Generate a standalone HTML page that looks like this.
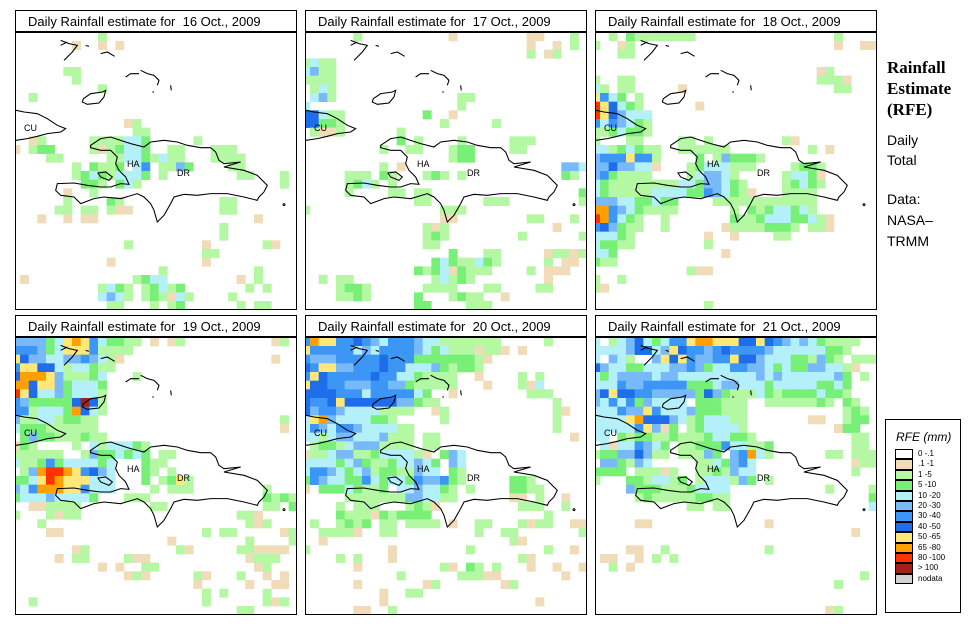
<!DOCTYPE html>
<html><head><meta charset="utf-8">
<style>
body{margin:0;background:#fff;width:971px;height:635px;overflow:hidden;position:relative;font-family:"Liberation Sans",sans-serif}
.title{position:absolute;height:22px;border:1px solid #000;box-sizing:border-box;font-size:13px;line-height:21px;padding-left:12px;background:#fff;white-space:pre}
.map{position:absolute;border:1px solid #000;box-sizing:border-box;overflow:hidden;background:#fff}
.side{position:absolute;left:887px}
</style></head><body>
<div class="side" style="top:57px;font-family:'Liberation Serif',serif;font-weight:bold;font-size:17px;line-height:21px">Rainfall<br>Estimate<br>(RFE)</div>
<div class="side" style="top:130px;font-size:14px;line-height:20px">Daily<br>Total</div>
<div class="side" style="top:189px;font-size:14px;line-height:21px">Data:<br>NASA–<br>TRMM</div>
<div id="legend" style="position:absolute;left:885px;top:419px;width:76px;height:194px;border:1px solid #000;box-sizing:border-box"></div>
<div id="panels"></div>
<svg width="0" height="0" style="position:absolute">
<defs>
<g id="coast" fill="none" stroke="#000" stroke-width="3.2" transform="scale(0.3333) translate(-16,-8)">
<path d="M240,345 L270,325 L300,320 L330,330 L360,340 L400,350 L420,335 L460,330 L500,335 L530,345 L570,352 L600,352 L615,365 L625,390 L640,400 L690,395 L640,410 L700,420 L740,435 L770,465 L760,485 L745,500 L740,510 L700,500 L650,490 L600,490 L560,495 L520,492 L490,500 L480,520 L460,555 L440,575 L430,540 L420,520 L400,500 L380,490 L330,505 L280,500 L250,505 L210,520 L190,500 L150,495 L135,480 L140,460 L190,458 L230,465 L270,470 L300,470 L330,460 L355,462 L345,440 L325,420 L315,400 L320,380 L300,360 L270,360 L240,352 Z"/>
<path d="M262,428 L285,425 L305,440 L295,450 L270,440 Z"/>
<path d="M218,205 L240,190 L275,185 L285,180 L280,200 L265,218 L230,222 L215,215 Z"/>
<path d="M16,240 L40,245 L80,250 L110,265 L140,285 L165,295 L150,305 L110,310 L80,318 L50,325 L16,330"/>
<path d="M150,30 L175,40 L200,45 L185,65 L160,90 M150,45 L170,35 M225,45 L235,48 M270,70 L290,65 L312,78 M345,140 L360,130 L385,130 M390,120 L410,130 L430,135 L445,150 L440,165 M425,185 L430,185 M480,165 L482,180"/>
<path d="M820,520 a3,3 0 1,0 0.1,0"/>
</g>
</defs>
</svg>
<script>
// ---- data: RFE category per grid cell, per row (tokens "col+code" or "a-b"+code) ----
const legendLabels = ["0 -.1",".1 -1","1 -5","5 -10","10 -20","20 -30","30 -40","40 -50","50 -65","65 -80","80 -100","> 100","nodata"];
const legendCodes = [".","t","g","G","a","b","c","d","y","o","r","m","n"];
const dayTitles = ["16 Oct., 2009","17 Oct., 2009","18 Oct., 2009","19 Oct., 2009","20 Oct., 2009","21 Oct., 2009"];
const day16 = ["10g","7t 10t 12t","","","6-7g","7g","10g","2g","","","13t 14g","14-15g",
"2t 3g 9-12g 13-14a 15G 21g","0t 2g 3-4G 9g 10t 11g 12G 13-14a 15G 18-19g 23-25g",
"4-5g 11-12g 13-14a 15G 16g 17a 18-19g 23-26g","7g 9G 10-11g 12G 14a 15c 17-18g 19b 20G 25-26g",
"7g 8G 9a 10G 11g 12-14a 15G 17g 26-27g 31g","8-9G 10g 12G 13a 14g 31g","6t 9g","6g 11G 12g 24-25g",
"5-6g 8-9g 11g 12-13t 24-25g","3t 6t 8-9t 28t","24g","24g","13g 22t 29g 30t","22-23g","11t 22t","17g 28g",
"1t 14g 15G 16-17a 26t 28g","10g 11a 12G 13g 15g 16G 17a 18g 19G 27g 29g",
"10a 11b 12a 13g 15g 16G 17g 18t 19a 20g 25g","11-12g 16g 18g 19G 26g 28-29g"];
const day17 = ["6g 17t 26-27t 31g","26t 29t 31g","26g 28t 29g","0g 1a 2-3g","0a 1b 2-3g","0-3g","1g 2a 3g",
"1a 2b 3g 18-19g","0a 18g","0-1d 2a 3-4g 14G 17t","0-1d 2-3G 4g 16g 22g","1g 2-3t 4g 11g","11G 13g 18g 24-26g",
"9g 12-13g 17g 18-19G 24-25g","17g 18-19G","9g 11t 30-31b 32a","5-7g 9G 10g 14g 15G 16g 18g 30G 31g",
"5g 6G 7a 8g 10g","5g 10-11g 13-14g 32G","13-14g 21-23g 32g","0g 16-18g","16-17t 26-27g 31g",
"14g 15t 16g 29t","14g 15G 16g 25g 32g","14-15g","17G 21-22g 28t 29-30g 31t 32g",
"15G 16a 17G 18-19g 20a 21G 22g 28g 30-31t","13G 14g 15G 16a 17t 18G 19-21g 26g 28-30t",
"2g 4-5g 15g 16a 17g 18G 19g 28t","4g 5-6G 7g 14-17g 21-22g 27-28g","4-5g 6G 7g 13G 17g 18G 19-20g 23t","13-14G 19-21g"];
const day18 = ["2g 4G 5-11g 28g","0g 3t 4g 28t 31-32t","3-4g","","26t 27g","0g 3-4g 26-28g 29t","0a 1g 3-4g 10t 28-29g",
"0y 1c 2a 3G 5g","0r 1y 2d 3a 4G 5g 12t","0r 1y 2d 3b 4-6a","0c 1a 2c 3b 4a 5G 6g","0-1g 2G 3a 4-5G 6g",
"0g 4-5g 10-11g 13g 22g 23t","0-1a 2g 3G 4a 5G 6-7g 10-15g 25g 27t","0b 1-3c 4y 5-6c 7g 12G 14g 15b 16-18G 19g",
"0-1b 2d 3-4b 5-6a 7t 11g 12G 13-15a 16-18g 23g 24-25G 26g","0b 1c 2G 3-6g 11g 12a 13-14b 15a 16g 22g 23-24a 25G 26t",
"0a 1G 2-6g 7-9g 10-11a 12G 13-14b 15a 16G 17g 22g 23G 24a 25G 26g",
"0a 1G 2-6g 7-10a 11-12G 13c 14b 15a 16G 17g 18t 22-25g","0-2b 3-4a 5-6G 7a 8-9G 14-15g 16-25g",
"0-1o 2c 3b 4a 5G 6-9g 16g 18G 19g 20G 21-22a 23G 24a 25g","0r 1o 2c 3a 4G 5g 8g 16G 17-18g 19G 20-22a 23-24G 25a 26g 27t",
"0c 1d 2b 3G 4-5g 8g 15t 16-19g 20-22G 23g 25-26g 27t","0-2a 3G 4g 13t 16t 21-22g","0a 1-2G 3-4g 13g","0-1a 2G 15t",
"0G 1-2g","11g 12-13t","0g 3g","0g 1t","","13g"];
const day19 = ["0-3b 4G 5a 6y 7o 8y 9c 10a 11-12G 13-14g 16t 18t 19g 30t 31g","0-2c 3b 4G 5a 6-8y 9c 10-12g 13g",
"0y 1d 2-3b 4-5a 6-7b 8c 9b 10a 11g 12t 30t","0c 1-2y 3-4d 5a 6g 7-8a 9G 10-11g","0d 1-3o 4y 5b 6-8g 9G 10a 14g",
"0-1o 2d 3-4y 5b 6G 7-9a 10G","0r 1y 2d 3-4a 5b 6G 7-9a 10g","0c 1b 2-6G 7d 8m 9d 10g","0-1c 2g 3-5a 6G 7o 8d 9a 10g",
"0b 1-2g 3-4a 5g 6-7G 8-9g 31g","0a 1-3G 4-9g 31t","1G 2b 3-4G 5-7g 8G 9-10g","0t 1G 2g 7g 9a 10g 11-13a 14G 15g",
"0-5g 8g 9b 10-11G 12a 13G 14a 15G 17-18g","0a 1-2g 3G 4c 5G 6-9a 10G 11a 15G 16-17g",
"1g 2b 3o 4-5r 6o 7y 8c 9d 10b 11a 15G 16g 18g","0-1G 2a 3y 4r 5o 6-8y 9-11a 15G 17g 18G 19y 20g",
"0b 1a 2c 3-5o 6-7y 8c 9-11a 16g 18-20g 29g","0G 1-3a 4b 5-8a 9G 13-15g 29G 30g 31G 32g","2-3t 4-7g 16-17g 29-30g 32G",
"0g 4g 5t 6-7g 26-27g 28t","3g 27g 28t 29g","4-5t 22g 24-25g 31t 32g","18t 27g 32g","7t 8g 19g 20t 26-27g 28-31t",
"5t 7-8g 13g 14-15t 27t 28-30g","10t 12t 15-16g 28t 29g","13t 14g 15t 21g 22t 26g 29t 31t","21t 27t 30-31t",
"22g 24g 29g","2g 22g 29g 30t 31g","26-27g"];
const day20 = ["0c 1o 2-3y 4-5c 6d 7c 8b 9a 10-12c 13b 14-15a 16-22g 28g","0y 1-5c 6a 7b 8a 9-12c 13b 14a 15G 16a 17-19g 20t 21-22g 23t 25t",
"0c 1-3b 4-8c 9d 10-12c 13G 14-19G 20g 21t","0d 1c 2-3y 4-5b 6-8c 9d 10-11c 12-14a 15b 16G 17g 18-19G 20g",
"0c 1y 2d 3-7c 8d 9-10c 11-12a 13G 14-17g 20t 25g 27g","0y 1-2d 3-4c 5-7b 8-9c 10-11b 12G 13-17g 21t 25g 26t 27a",
"0-3d 4-6c 7a 8-12c 13a 14G 17t 26-28g","0d 1-2c 3d 4y 5-10d 11-12b 13G 14-15g 29g","0d 1b 2-3c 4b 5-8a 9-12g 15t 16g 29g 30t",
"0a 1y 2o 3b 4-7a 8-9G 10g 16g 29g","0a 1c 2b 3a 4-5c 6b 7-10a 11-12g 29g","0-1a 2g 3a 4-5b 6-8a 9b 10-12g 14-15g 31t",
"1g 2-3G 4g 5a 6-8b 9-12g 14-15g","0t 1-2g 3a 4-5b 6-7g 8G 9-12a 13g 14t 16G 17b 18a",
"0-3a 4G 5a 6b 7G 8-9g 10G 11-12a 13b 14a 15G 17b 18a","0a 1-2c 3b 4a 5G 6a 7b 8g 9-10G 11-12g 13b 14-15a 17G 18g",
"0G 1c 2b 3-4a 5-6G 7c 8a 9G 10-11a 12G 13c 14-15b 16c 17G 18g 24-25G 26g","0t 2-4G 5a 6G 7-8g 9G 11-12a 13b 14-15a 16G 17g 19g 24-25G 26-27g",
"5-11g 12-13b 14-15a 16-17g 24-25t 27g 30t","4g 6-8g 12g 13G 14g 15t 25-27g 30g","4G 5-7g 8t 9G 10g 11-14G 28g",
"1g 4g 5G 6g 7G 9-10g 12-15g 17t 20-21g 25g 26t 27-28g 31-32t","2-5g 6t 9-10g 20g 23-24g 32g","2t 24g 25t",
"0g 10t 19g 28g 31t","4g 6g 10t 25g 26t","6t 16g 17t 19G 20g 22g 26t 29t 32t","11g 18-20g 21-22t 30t",
"6t 14t 15g 23t 24g","9t 12-13g","9t 27t","6-7t 10g"];
const day21 = ["0a 2g 3a 4b 5d 6a 7G 8a 9-10c 11y 12-13o 14-16y 17-18d 19y 20d 21c 22b 23a 24b 25a 26G 27-30g",
"0-3a 4b 5-6d 7a 8b 9y 10d 11-12c 13b 14c 15d 16-19c 20b 21-26a 27-28G 29g",
"0a 2b 3a 4g 7b 8y 9d 10y 11c 12-13b 14-15c 16y 17-18d 19b 20-22a 23-24G 25g 26b 27G 28g 30-32g",
"0d 1b 2-3a 4-5G 6-8a 9-10b 11c 12b 13G 14-15a 16-17c 18-19b 20a 21G 22a 23-24G 25-26b 27-28a 29g 30t",
"0a 1G 2a 3-6b 7a 8-9b 10-18a 19b 20a 21b 22-27a 28b 29G 31g","0-2a 3c 4-5b 6-10c 11-13G 14a 15-16b 17-19a 20G 21-25a 26-27G 28a 29G",
"0b 1d 2y 3-4d 5-6c 7-11b 12G 13d 14b 15G 16-18g 19a 20G 21g 22-25G 26a 27-28G 29g",
"0b 1a 2c 3a 4c 5G 6b 7-10a 12-14G 15-17g 20-25g 26G 27g 29G 30g","0-2a 3c 4-5b 6y 7c 8-10a 11b 12-14G 15-17g 29g 30G 31g",
"0-3a 4y 5o 6-8d 9b 10a 11g 12G 13-15a 16-17g 25-26t 29g 30-31G","0-4a 5c 6y 7b 8t 9G 11g 12G 13-16a 17g 28t 29-30G",
"0-1a 3G 4g 5-6G 7-8g 9G 10-12g 13G 14-15a 16-17G 18g 30-31g","1a 2t 3-4a 5c 6b 7a 8G 10-11g 12-14G 15c 16-17a 18-19g 20G 30-31g",
"0g 1-2G 3-4b 5d 6b 7-8g 10-12g 13b 14G 16b 17c 18o 19a 20g 27-28g 30-32g","1-2b 3G 4g 5b 6a 12-13g 14a 15G 16b 17c 18a 30t 31-32g",
"0-3G 5-7g 8t 9g 12-13g 14G 15g 16b 17-18a 30g","0g 4-5G 6g 7-8a 9g 10G 12g 13-15a 16g 17b 18G 20g",
"4b 5-7G 8-10g 11G 12-15a 27g 32g","5g 6G 7-10g 11g 12-13G 14-15g 32G","11-12g 14-15g 32a","","5-6t 20t","30t","",
"4-5t 8g 20g","1-2t 5t 7g 9g","2g 4t","31g","28g","","","27t 28g"];
const dayData = [day16, day17, day18, day19, day20, day21];
</script>
<script>
const colors = {t:"#f0dcb9",g:"#b4f8a4",G:"#78f078",a:"#b4f0fa",b:"#78b9fa",c:"#3c96f5",d:"#1e6eeb",y:"#ffe878",o:"#ffa000",r:"#ff3200",m:"#a51e1e",n:"#d2d2d2",".":"#ffffff"};
const CELL = 8.667, X0 = -4.67, Y0 = -0.67;
const xCell = c => X0 + c * CELL;
const yCell = r => Y0 + r * CELL;
const panelLeft = [15, 305, 595];
const panelTitleTop = [10, 315];
const NS = "http://www.w3.org/2000/svg";
const root = document.getElementById("panels");
dayData.forEach((rows, p) => {
  const L = panelLeft[p % 3], T = panelTitleTop[Math.floor(p / 3)];
  const title = document.createElement("div");
  title.className = "title";
  title.style.left = L + "px"; title.style.top = T + "px"; title.style.width = "282px";
  title.textContent = "Daily Rainfall estimate for  " + dayTitles[p];
  
  
  root.appendChild(title);
  const map = document.createElement("div");
  map.className = "map";
  map.style.left = L + "px"; map.style.top = (T + 22) + "px"; map.style.width = "282px"; map.style.height = "278px";
  
  
  const svg = document.createElementNS(NS, "svg");
  svg.setAttribute("width", "280"); svg.setAttribute("height", "276");
  svg.style.position = "absolute"; svg.style.left = "0"; svg.style.top = "0";
  rows.forEach((row, r) => {
    row.split(/\s+/).filter(Boolean).forEach(tok => {
      const m = tok.match(/^(\d+)(?:-(\d+))?(.)$/);
      if (!m) return;
      const a = +m[1], b = m[2] ? +m[2] : a;
      for (let c = a; c <= b; c++) {
        const rect = document.createElementNS(NS, "rect");
        rect.setAttribute("x", xCell(c)); rect.setAttribute("y", yCell(r));
        rect.setAttribute("width", CELL + 0.3); rect.setAttribute("height", CELL + 0.3);
        rect.setAttribute("fill", colors[m[3]] || "#fff");
        
        
        svg.appendChild(rect);
      }
    });
  });
  const use = document.createElementNS(NS, "use");
  use.setAttribute("href", "#coast");
  svg.appendChild(use);
  [["CU", 8, 98], ["HA", 111, 134], ["DR", 161, 143]].forEach(([t, x, y]) => {
    const tx = document.createElementNS(NS, "text");
    tx.setAttribute("x", x); tx.setAttribute("y", y);
    tx.setAttribute("font-size", "9"); tx.setAttribute("font-family", "Liberation Sans, sans-serif");
    tx.textContent = t;
    
    
    svg.appendChild(tx);
  });
  map.appendChild(svg);
  root.appendChild(map);
});
const leg = document.getElementById("legend");
const lt = document.createElement("div");
lt.textContent = "RFE (mm)";
lt.style.cssText = "position:absolute;left:10px;top:10px;font-style:italic;font-size:12px";


leg.appendChild(lt);
legendLabels.forEach((lab, i) => {
  const sw = document.createElement("div");
  sw.style.cssText = "position:absolute;left:9px;width:18px;height:10.4px;box-sizing:border-box;border:1px solid #000;top:" + (29 + i * 10.4) + "px;background:" + colors[legendCodes[i]];
  
  
  leg.appendChild(sw);
  const tx = document.createElement("div");
  tx.textContent = lab;
  tx.style.cssText = "position:absolute;left:32px;font-size:8px;line-height:10px;top:" + (29 + i * 10.4) + "px";
  
  
  leg.appendChild(tx);
});
</script>
</body></html>
